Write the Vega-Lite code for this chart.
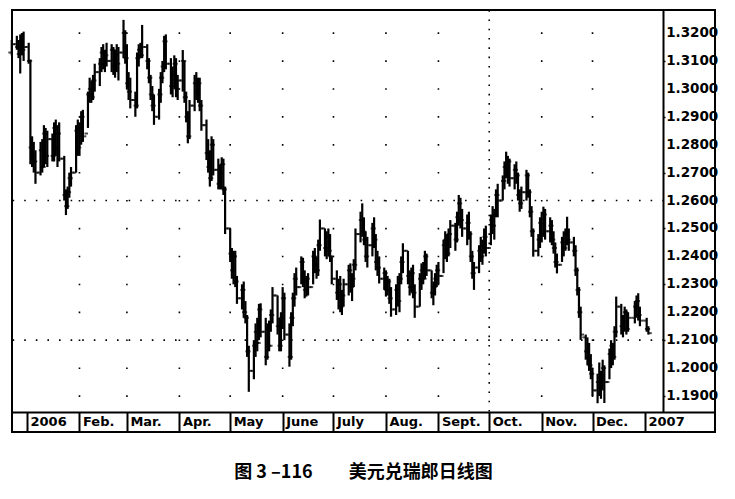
{
  "$schema": "https://vega.github.io/schema/vega-lite/v6.json",
  "width": 703,
  "height": 422,
  "autosize": {"type": "none"},
  "padding": {"left": 12, "top": 10, "right": 20, "bottom": 67},
  "background": "white",
  "config": {
    "view": {"stroke": "#000", "strokeWidth": 2},
    "axis": {"grid": false, "title": null, "labelOverlap": false}
  },
  "title": {
    "text": "图 3 –116\u3000\u3000美元兑瑞郎日线图",
    "orient": "bottom",
    "anchor": "middle",
    "font": "Noto Sans CJK SC",
    "fontSize": 18,
    "fontWeight": "bold",
    "color": "#000",
    "offset": 31
  },
  "datasets": {
    "ohlc": [
      {"d":"2005-12-23","o":1.3130,"h":1.3175,"l":1.3120,"c":1.3160},
      {"d":"2005-12-26","o":1.3160,"h":1.3190,"l":1.3140,"c":1.3150},
      {"d":"2005-12-27","o":1.3150,"h":1.3175,"l":1.3110,"c":1.3125},
      {"d":"2005-12-28","o":1.3125,"h":1.3195,"l":1.3055,"c":1.3170},
      {"d":"2005-12-29","o":1.3170,"h":1.3200,"l":1.3120,"c":1.3140},
      {"d":"2005-12-30","o":1.3140,"h":1.3205,"l":1.3100,"c":1.3150},
      {"d":"2006-01-02","o":1.3150,"h":1.3165,"l":1.3090,"c":1.3100},
      {"d":"2006-01-03","o":1.3100,"h":1.3105,"l":1.2730,"c":1.2790},
      {"d":"2006-01-04","o":1.2790,"h":1.2830,"l":1.2720,"c":1.2760},
      {"d":"2006-01-05","o":1.2760,"h":1.2810,"l":1.2700,"c":1.2740},
      {"d":"2006-01-06","o":1.2740,"h":1.2780,"l":1.2660,"c":1.2700},
      {"d":"2006-01-09","o":1.2700,"h":1.2810,"l":1.2690,"c":1.2780},
      {"d":"2006-01-10","o":1.2780,"h":1.2820,"l":1.2700,"c":1.2720},
      {"d":"2006-01-11","o":1.2720,"h":1.2870,"l":1.2720,"c":1.2840},
      {"d":"2006-01-12","o":1.2840,"h":1.2860,"l":1.2730,"c":1.2760},
      {"d":"2006-01-13","o":1.2760,"h":1.2850,"l":1.2720,"c":1.2820},
      {"d":"2006-01-16","o":1.2820,"h":1.2840,"l":1.2740,"c":1.2760},
      {"d":"2006-01-17","o":1.2760,"h":1.2880,"l":1.2740,"c":1.2860},
      {"d":"2006-01-18","o":1.2860,"h":1.2890,"l":1.2760,"c":1.2790},
      {"d":"2006-01-19","o":1.2790,"h":1.2870,"l":1.2720,"c":1.2840},
      {"d":"2006-01-20","o":1.2840,"h":1.2880,"l":1.2740,"c":1.2750},
      {"d":"2006-01-23","o":1.2750,"h":1.2760,"l":1.2600,"c":1.2620},
      {"d":"2006-01-24","o":1.2620,"h":1.2640,"l":1.2548,"c":1.2580},
      {"d":"2006-01-25","o":1.2580,"h":1.2650,"l":1.2570,"c":1.2630},
      {"d":"2006-01-26","o":1.2630,"h":1.2700,"l":1.2610,"c":1.2680},
      {"d":"2006-01-27","o":1.2680,"h":1.2720,"l":1.2650,"c":1.2700},
      {"d":"2006-01-30","o":1.2700,"h":1.2870,"l":1.2700,"c":1.2850},
      {"d":"2006-01-31","o":1.2850,"h":1.2890,"l":1.2760,"c":1.2790},
      {"d":"2006-02-01","o":1.2790,"h":1.2880,"l":1.2760,"c":1.2860},
      {"d":"2006-02-02","o":1.2860,"h":1.2920,"l":1.2800,"c":1.2900},
      {"d":"2006-02-03","o":1.2900,"h":1.2925,"l":1.2810,"c":1.2830},
      {"d":"2006-02-06","o":1.2840,"h":1.2990,"l":1.2860,"c":1.2980},
      {"d":"2006-02-07","o":1.2980,"h":1.3040,"l":1.2950,"c":1.3000},
      {"d":"2006-02-08","o":1.3000,"h":1.3030,"l":1.2950,"c":1.2970},
      {"d":"2006-02-09","o":1.2970,"h":1.3050,"l":1.2960,"c":1.3030},
      {"d":"2006-02-10","o":1.3030,"h":1.3090,"l":1.2990,"c":1.3060},
      {"d":"2006-02-13","o":1.3060,"h":1.3110,"l":1.3010,"c":1.3090},
      {"d":"2006-02-14","o":1.3090,"h":1.3150,"l":1.3060,"c":1.3130},
      {"d":"2006-02-15","o":1.3130,"h":1.3160,"l":1.3070,"c":1.3090},
      {"d":"2006-02-16","o":1.3090,"h":1.3140,"l":1.3060,"c":1.3120},
      {"d":"2006-02-17","o":1.3120,"h":1.3165,"l":1.3080,"c":1.3100},
      {"d":"2006-02-20","o":1.3100,"h":1.3160,"l":1.3060,"c":1.3140},
      {"d":"2006-02-21","o":1.3140,"h":1.3150,"l":1.3050,"c":1.3080},
      {"d":"2006-02-22","o":1.3080,"h":1.3140,"l":1.3040,"c":1.3120},
      {"d":"2006-02-23","o":1.3120,"h":1.3160,"l":1.3060,"c":1.3090},
      {"d":"2006-02-24","o":1.3090,"h":1.3150,"l":1.3030,"c":1.3130},
      {"d":"2006-02-27","o":1.3130,"h":1.3247,"l":1.3110,"c":1.3200},
      {"d":"2006-02-28","o":1.3200,"h":1.3210,"l":1.3090,"c":1.3110},
      {"d":"2006-03-01","o":1.3110,"h":1.3160,"l":1.3000,"c":1.3020},
      {"d":"2006-03-02","o":1.3020,"h":1.3060,"l":1.2960,"c":1.2990},
      {"d":"2006-03-03","o":1.2990,"h":1.3040,"l":1.2930,"c":1.2960},
      {"d":"2006-03-06","o":1.2960,"h":1.2990,"l":1.2900,"c":1.2940},
      {"d":"2006-03-07","o":1.2940,"h":1.3130,"l":1.2930,"c":1.3110},
      {"d":"2006-03-08","o":1.3110,"h":1.3160,"l":1.3080,"c":1.3140},
      {"d":"2006-03-09","o":1.3140,"h":1.3165,"l":1.3110,"c":1.3120},
      {"d":"2006-03-10","o":1.3120,"h":1.3229,"l":1.3110,"c":1.3150},
      {"d":"2006-03-13","o":1.3150,"h":1.3160,"l":1.3070,"c":1.3100},
      {"d":"2006-03-14","o":1.3100,"h":1.3110,"l":1.3020,"c":1.3040},
      {"d":"2006-03-15","o":1.3040,"h":1.3050,"l":1.2960,"c":1.2980},
      {"d":"2006-03-16","o":1.2980,"h":1.3010,"l":1.2920,"c":1.2940},
      {"d":"2006-03-17","o":1.2940,"h":1.2980,"l":1.2871,"c":1.2900},
      {"d":"2006-03-20","o":1.2900,"h":1.3000,"l":1.2890,"c":1.2980},
      {"d":"2006-03-21","o":1.2980,"h":1.3060,"l":1.2950,"c":1.3040},
      {"d":"2006-03-22","o":1.3040,"h":1.3100,"l":1.3020,"c":1.3080},
      {"d":"2006-03-23","o":1.3080,"h":1.3190,"l":1.3060,"c":1.3170},
      {"d":"2006-03-24","o":1.3170,"h":1.3195,"l":1.3070,"c":1.3090},
      {"d":"2006-03-27","o":1.3090,"h":1.3110,"l":1.2980,"c":1.3010},
      {"d":"2006-03-28","o":1.3010,"h":1.3080,"l":1.2970,"c":1.3050},
      {"d":"2006-03-29","o":1.3050,"h":1.3120,"l":1.3000,"c":1.3090},
      {"d":"2006-03-30","o":1.3090,"h":1.3110,"l":1.2970,"c":1.3000},
      {"d":"2006-03-31","o":1.3000,"h":1.3050,"l":1.2960,"c":1.3030},
      {"d":"2006-04-03","o":1.3030,"h":1.3139,"l":1.2990,"c":1.3100},
      {"d":"2006-04-04","o":1.3100,"h":1.3100,"l":1.2950,"c":1.2970},
      {"d":"2006-04-05","o":1.2970,"h":1.2990,"l":1.2880,"c":1.2900},
      {"d":"2006-04-06","o":1.2900,"h":1.2920,"l":1.2805,"c":1.2830},
      {"d":"2006-04-07","o":1.2830,"h":1.2960,"l":1.2820,"c":1.2940},
      {"d":"2006-04-10","o":1.2940,"h":1.3050,"l":1.2920,"c":1.3020},
      {"d":"2006-04-11","o":1.3020,"h":1.3060,"l":1.2960,"c":1.2990},
      {"d":"2006-04-12","o":1.2990,"h":1.3040,"l":1.2950,"c":1.3020},
      {"d":"2006-04-13","o":1.3020,"h":1.3040,"l":1.2920,"c":1.2940},
      {"d":"2006-04-14","o":1.2940,"h":1.2960,"l":1.2850,"c":1.2870},
      {"d":"2006-04-17","o":1.2870,"h":1.2890,"l":1.2745,"c":1.2770},
      {"d":"2006-04-18","o":1.2770,"h":1.2820,"l":1.2700,"c":1.2720},
      {"d":"2006-04-19","o":1.2720,"h":1.2780,"l":1.2650,"c":1.2680},
      {"d":"2006-04-20","o":1.2680,"h":1.2830,"l":1.2670,"c":1.2800},
      {"d":"2006-04-21","o":1.2800,"h":1.2820,"l":1.2690,"c":1.2710},
      {"d":"2006-04-24","o":1.2710,"h":1.2750,"l":1.2640,"c":1.2660},
      {"d":"2006-04-25","o":1.2660,"h":1.2730,"l":1.2640,"c":1.2700},
      {"d":"2006-04-26","o":1.2700,"h":1.2755,"l":1.2640,"c":1.2730},
      {"d":"2006-04-27","o":1.2730,"h":1.2750,"l":1.2620,"c":1.2640},
      {"d":"2006-04-28","o":1.2640,"h":1.2650,"l":1.2480,"c":1.2500},
      {"d":"2006-05-01","o":1.2500,"h":1.2500,"l":1.2380,"c":1.2410},
      {"d":"2006-05-02","o":1.2410,"h":1.2430,"l":1.2320,"c":1.2350},
      {"d":"2006-05-03","o":1.2350,"h":1.2420,"l":1.2300,"c":1.2400},
      {"d":"2006-05-04","o":1.2400,"h":1.2420,"l":1.2290,"c":1.2310},
      {"d":"2006-05-05","o":1.2310,"h":1.2330,"l":1.2230,"c":1.2250},
      {"d":"2006-05-08","o":1.2250,"h":1.2300,"l":1.2210,"c":1.2280},
      {"d":"2006-05-09","o":1.2280,"h":1.2310,"l":1.2180,"c":1.2200},
      {"d":"2006-05-10","o":1.2200,"h":1.2240,"l":1.2160,"c":1.2180},
      {"d":"2006-05-11","o":1.2180,"h":1.2190,"l":1.2040,"c":1.2060},
      {"d":"2006-05-12","o":1.2060,"h":1.2080,"l":1.1915,"c":1.1990},
      {"d":"2006-05-15","o":1.1990,"h":1.2100,"l":1.1960,"c":1.2080},
      {"d":"2006-05-16","o":1.2080,"h":1.2160,"l":1.2040,"c":1.2130},
      {"d":"2006-05-17","o":1.2130,"h":1.2180,"l":1.2060,"c":1.2090},
      {"d":"2006-05-18","o":1.2090,"h":1.2230,"l":1.2100,"c":1.2210},
      {"d":"2006-05-19","o":1.2210,"h":1.2232,"l":1.2110,"c":1.2130},
      {"d":"2006-05-22","o":1.2130,"h":1.2180,"l":1.2010,"c":1.2040},
      {"d":"2006-05-23","o":1.2040,"h":1.2160,"l":1.2030,"c":1.2140},
      {"d":"2006-05-24","o":1.2140,"h":1.2170,"l":1.2060,"c":1.2080},
      {"d":"2006-05-25","o":1.2080,"h":1.2210,"l":1.2130,"c":1.2190},
      {"d":"2006-05-26","o":1.2190,"h":1.2290,"l":1.2160,"c":1.2260},
      {"d":"2006-05-29","o":1.2260,"h":1.2260,"l":1.2120,"c":1.2150},
      {"d":"2006-05-30","o":1.2150,"h":1.2180,"l":1.2060,"c":1.2080},
      {"d":"2006-05-31","o":1.2080,"h":1.2200,"l":1.2060,"c":1.2180},
      {"d":"2006-06-01","o":1.2180,"h":1.2290,"l":1.2140,"c":1.2250},
      {"d":"2006-06-02","o":1.2250,"h":1.2270,"l":1.2100,"c":1.2120},
      {"d":"2006-06-05","o":1.2120,"h":1.2160,"l":1.2005,"c":1.2040},
      {"d":"2006-06-06","o":1.2040,"h":1.2200,"l":1.2030,"c":1.2180},
      {"d":"2006-06-07","o":1.2180,"h":1.2270,"l":1.2150,"c":1.2250},
      {"d":"2006-06-08","o":1.2250,"h":1.2340,"l":1.2220,"c":1.2320},
      {"d":"2006-06-09","o":1.2320,"h":1.2360,"l":1.2260,"c":1.2290},
      {"d":"2006-06-12","o":1.2290,"h":1.2400,"l":1.2300,"c":1.2380},
      {"d":"2006-06-13","o":1.2380,"h":1.2395,"l":1.2290,"c":1.2310},
      {"d":"2006-06-14","o":1.2310,"h":1.2350,"l":1.2250,"c":1.2280},
      {"d":"2006-06-15","o":1.2280,"h":1.2330,"l":1.2256,"c":1.2320},
      {"d":"2006-06-16","o":1.2320,"h":1.2340,"l":1.2260,"c":1.2290},
      {"d":"2006-06-19","o":1.2290,"h":1.2420,"l":1.2300,"c":1.2400},
      {"d":"2006-06-20","o":1.2400,"h":1.2430,"l":1.2340,"c":1.2370},
      {"d":"2006-06-21","o":1.2370,"h":1.2400,"l":1.2320,"c":1.2350},
      {"d":"2006-06-22","o":1.2350,"h":1.2460,"l":1.2330,"c":1.2440},
      {"d":"2006-06-23","o":1.2440,"h":1.2532,"l":1.2420,"c":1.2500},
      {"d":"2006-06-26","o":1.2500,"h":1.2500,"l":1.2400,"c":1.2430},
      {"d":"2006-06-27","o":1.2430,"h":1.2490,"l":1.2390,"c":1.2470},
      {"d":"2006-06-28","o":1.2470,"h":1.2500,"l":1.2400,"c":1.2420},
      {"d":"2006-06-29","o":1.2420,"h":1.2480,"l":1.2380,"c":1.2400},
      {"d":"2006-06-30","o":1.2400,"h":1.2400,"l":1.2300,"c":1.2320},
      {"d":"2006-07-03","o":1.2320,"h":1.2350,"l":1.2244,"c":1.2270},
      {"d":"2006-07-04","o":1.2270,"h":1.2320,"l":1.2210,"c":1.2300},
      {"d":"2006-07-05","o":1.2300,"h":1.2330,"l":1.2200,"c":1.2220},
      {"d":"2006-07-06","o":1.2220,"h":1.2280,"l":1.2190,"c":1.2260},
      {"d":"2006-07-07","o":1.2260,"h":1.2320,"l":1.2220,"c":1.2300},
      {"d":"2006-07-10","o":1.2300,"h":1.2370,"l":1.2260,"c":1.2350},
      {"d":"2006-07-11","o":1.2350,"h":1.2375,"l":1.2270,"c":1.2290},
      {"d":"2006-07-12","o":1.2290,"h":1.2340,"l":1.2240,"c":1.2320},
      {"d":"2006-07-13","o":1.2320,"h":1.2390,"l":1.2290,"c":1.2370},
      {"d":"2006-07-14","o":1.2370,"h":1.2500,"l":1.2350,"c":1.2480},
      {"d":"2006-07-17","o":1.2480,"h":1.2560,"l":1.2450,"c":1.2530},
      {"d":"2006-07-18","o":1.2530,"h":1.2590,"l":1.2470,"c":1.2490},
      {"d":"2006-07-19","o":1.2490,"h":1.2540,"l":1.2440,"c":1.2460},
      {"d":"2006-07-20","o":1.2460,"h":1.2490,"l":1.2380,"c":1.2400},
      {"d":"2006-07-21","o":1.2400,"h":1.2470,"l":1.2360,"c":1.2440},
      {"d":"2006-07-24","o":1.2440,"h":1.2520,"l":1.2400,"c":1.2500},
      {"d":"2006-07-25","o":1.2500,"h":1.2540,"l":1.2430,"c":1.2460},
      {"d":"2006-07-26","o":1.2460,"h":1.2480,"l":1.2350,"c":1.2380},
      {"d":"2006-07-27","o":1.2380,"h":1.2420,"l":1.2330,"c":1.2360},
      {"d":"2006-07-28","o":1.2360,"h":1.2400,"l":1.2303,"c":1.2320},
      {"d":"2006-07-31","o":1.2320,"h":1.2360,"l":1.2280,"c":1.2340},
      {"d":"2006-08-01","o":1.2340,"h":1.2350,"l":1.2256,"c":1.2280},
      {"d":"2006-08-02","o":1.2280,"h":1.2330,"l":1.2260,"c":1.2310},
      {"d":"2006-08-03","o":1.2310,"h":1.2320,"l":1.2230,"c":1.2250},
      {"d":"2006-08-04","o":1.2250,"h":1.2290,"l":1.2184,"c":1.2210},
      {"d":"2006-08-07","o":1.2210,"h":1.2300,"l":1.2190,"c":1.2280},
      {"d":"2006-08-08","o":1.2280,"h":1.2330,"l":1.2220,"c":1.2240},
      {"d":"2006-08-09","o":1.2240,"h":1.2340,"l":1.2200,"c":1.2320},
      {"d":"2006-08-10","o":1.2320,"h":1.2400,"l":1.2300,"c":1.2380},
      {"d":"2006-08-11","o":1.2380,"h":1.2447,"l":1.2340,"c":1.2420},
      {"d":"2006-08-14","o":1.2420,"h":1.2420,"l":1.2300,"c":1.2330},
      {"d":"2006-08-15","o":1.2330,"h":1.2350,"l":1.2260,"c":1.2290},
      {"d":"2006-08-16","o":1.2290,"h":1.2360,"l":1.2270,"c":1.2340},
      {"d":"2006-08-17","o":1.2340,"h":1.2370,"l":1.2250,"c":1.2270},
      {"d":"2006-08-18","o":1.2270,"h":1.2300,"l":1.2180,"c":1.2220},
      {"d":"2006-08-21","o":1.2220,"h":1.2340,"l":1.2220,"c":1.2320},
      {"d":"2006-08-22","o":1.2320,"h":1.2375,"l":1.2280,"c":1.2350},
      {"d":"2006-08-23","o":1.2350,"h":1.2380,"l":1.2300,"c":1.2320},
      {"d":"2006-08-24","o":1.2320,"h":1.2420,"l":1.2320,"c":1.2400},
      {"d":"2006-08-25","o":1.2400,"h":1.2410,"l":1.2330,"c":1.2350},
      {"d":"2006-08-28","o":1.2350,"h":1.2350,"l":1.2250,"c":1.2270},
      {"d":"2006-08-29","o":1.2270,"h":1.2310,"l":1.2225,"c":1.2290},
      {"d":"2006-08-30","o":1.2290,"h":1.2340,"l":1.2260,"c":1.2320},
      {"d":"2006-08-31","o":1.2320,"h":1.2370,"l":1.2290,"c":1.2350},
      {"d":"2006-09-01","o":1.2350,"h":1.2380,"l":1.2300,"c":1.2330},
      {"d":"2006-09-04","o":1.2330,"h":1.2460,"l":1.2340,"c":1.2440},
      {"d":"2006-09-05","o":1.2440,"h":1.2490,"l":1.2390,"c":1.2460},
      {"d":"2006-09-06","o":1.2460,"h":1.2480,"l":1.2380,"c":1.2410},
      {"d":"2006-09-07","o":1.2410,"h":1.2500,"l":1.2400,"c":1.2480},
      {"d":"2006-09-08","o":1.2480,"h":1.2530,"l":1.2430,"c":1.2510},
      {"d":"2006-09-11","o":1.2510,"h":1.2520,"l":1.2420,"c":1.2460},
      {"d":"2006-09-12","o":1.2460,"h":1.2560,"l":1.2450,"c":1.2540},
      {"d":"2006-09-13","o":1.2540,"h":1.2620,"l":1.2510,"c":1.2590},
      {"d":"2006-09-14","o":1.2590,"h":1.2610,"l":1.2500,"c":1.2530},
      {"d":"2006-09-15","o":1.2530,"h":1.2570,"l":1.2470,"c":1.2500},
      {"d":"2006-09-18","o":1.2500,"h":1.2550,"l":1.2440,"c":1.2520},
      {"d":"2006-09-19","o":1.2520,"h":1.2560,"l":1.2460,"c":1.2480},
      {"d":"2006-09-20","o":1.2480,"h":1.2490,"l":1.2380,"c":1.2400},
      {"d":"2006-09-21","o":1.2400,"h":1.2420,"l":1.2320,"c":1.2340},
      {"d":"2006-09-22","o":1.2340,"h":1.2380,"l":1.2280,"c":1.2360},
      {"d":"2006-09-25","o":1.2360,"h":1.2440,"l":1.2340,"c":1.2420},
      {"d":"2006-09-26","o":1.2420,"h":1.2470,"l":1.2380,"c":1.2400},
      {"d":"2006-09-27","o":1.2400,"h":1.2460,"l":1.2370,"c":1.2440},
      {"d":"2006-09-28","o":1.2440,"h":1.2500,"l":1.2410,"c":1.2470},
      {"d":"2006-09-29","o":1.2470,"h":1.2510,"l":1.2400,"c":1.2430},
      {"d":"2006-10-02","o":1.2430,"h":1.2550,"l":1.2440,"c":1.2530},
      {"d":"2006-10-03","o":1.2530,"h":1.2580,"l":1.2480,"c":1.2510},
      {"d":"2006-10-04","o":1.2510,"h":1.2570,"l":1.2460,"c":1.2550},
      {"d":"2006-10-05","o":1.2550,"h":1.2640,"l":1.2540,"c":1.2620},
      {"d":"2006-10-06","o":1.2620,"h":1.2660,"l":1.2540,"c":1.2600},
      {"d":"2006-10-09","o":1.2600,"h":1.2690,"l":1.2600,"c":1.2670},
      {"d":"2006-10-10","o":1.2670,"h":1.2740,"l":1.2640,"c":1.2720},
      {"d":"2006-10-11","o":1.2720,"h":1.2775,"l":1.2680,"c":1.2700},
      {"d":"2006-10-12","o":1.2700,"h":1.2760,"l":1.2660,"c":1.2740},
      {"d":"2006-10-13","o":1.2740,"h":1.2750,"l":1.2650,"c":1.2680},
      {"d":"2006-10-16","o":1.2680,"h":1.2730,"l":1.2640,"c":1.2710},
      {"d":"2006-10-17","o":1.2710,"h":1.2740,"l":1.2660,"c":1.2690},
      {"d":"2006-10-18","o":1.2690,"h":1.2700,"l":1.2600,"c":1.2620},
      {"d":"2006-10-19","o":1.2620,"h":1.2640,"l":1.2560,"c":1.2590},
      {"d":"2006-10-20","o":1.2590,"h":1.2650,"l":1.2570,"c":1.2630},
      {"d":"2006-10-23","o":1.2630,"h":1.2710,"l":1.2600,"c":1.2690},
      {"d":"2006-10-24","o":1.2690,"h":1.2700,"l":1.2610,"c":1.2630},
      {"d":"2006-10-25","o":1.2630,"h":1.2640,"l":1.2540,"c":1.2560},
      {"d":"2006-10-26","o":1.2560,"h":1.2580,"l":1.2470,"c":1.2490},
      {"d":"2006-10-27","o":1.2490,"h":1.2500,"l":1.2399,"c":1.2420},
      {"d":"2006-10-30","o":1.2420,"h":1.2480,"l":1.2400,"c":1.2460},
      {"d":"2006-10-31","o":1.2460,"h":1.2540,"l":1.2430,"c":1.2520},
      {"d":"2006-11-01","o":1.2520,"h":1.2560,"l":1.2450,"c":1.2480},
      {"d":"2006-11-02","o":1.2480,"h":1.2578,"l":1.2470,"c":1.2550},
      {"d":"2006-11-03","o":1.2550,"h":1.2570,"l":1.2460,"c":1.2490},
      {"d":"2006-11-06","o":1.2490,"h":1.2540,"l":1.2450,"c":1.2510},
      {"d":"2006-11-07","o":1.2510,"h":1.2530,"l":1.2440,"c":1.2460},
      {"d":"2006-11-08","o":1.2460,"h":1.2490,"l":1.2410,"c":1.2430},
      {"d":"2006-11-09","o":1.2430,"h":1.2450,"l":1.2360,"c":1.2380},
      {"d":"2006-11-10","o":1.2380,"h":1.2410,"l":1.2339,"c":1.2370},
      {"d":"2006-11-13","o":1.2370,"h":1.2470,"l":1.2380,"c":1.2450},
      {"d":"2006-11-14","o":1.2450,"h":1.2490,"l":1.2400,"c":1.2430},
      {"d":"2006-11-15","o":1.2430,"h":1.2500,"l":1.2420,"c":1.2480},
      {"d":"2006-11-16","o":1.2480,"h":1.2542,"l":1.2440,"c":1.2460},
      {"d":"2006-11-17","o":1.2460,"h":1.2500,"l":1.2420,"c":1.2450},
      {"d":"2006-11-20","o":1.2450,"h":1.2470,"l":1.2400,"c":1.2420},
      {"d":"2006-11-21","o":1.2420,"h":1.2440,"l":1.2330,"c":1.2350},
      {"d":"2006-11-22","o":1.2350,"h":1.2360,"l":1.2260,"c":1.2280},
      {"d":"2006-11-23","o":1.2280,"h":1.2290,"l":1.2180,"c":1.2200},
      {"d":"2006-11-24","o":1.2200,"h":1.2220,"l":1.2101,"c":1.2120},
      {"d":"2006-11-27","o":1.2110,"h":1.2120,"l":1.2030,"c":1.2060},
      {"d":"2006-11-28","o":1.2060,"h":1.2110,"l":1.2010,"c":1.2040},
      {"d":"2006-11-29","o":1.2040,"h":1.2090,"l":1.1990,"c":1.2010},
      {"d":"2006-11-30","o":1.2010,"h":1.2050,"l":1.1960,"c":1.1980},
      {"d":"2006-12-01","o":1.1980,"h":1.2000,"l":1.1900,"c":1.1920},
      {"d":"2006-12-04","o":1.1920,"h":1.1980,"l":1.1874,"c":1.1950},
      {"d":"2006-12-05","o":1.1950,"h":1.2020,"l":1.1900,"c":1.1930},
      {"d":"2006-12-06","o":1.1930,"h":1.1990,"l":1.1890,"c":1.1960},
      {"d":"2006-12-07","o":1.1960,"h":1.2030,"l":1.1920,"c":1.2000},
      {"d":"2006-12-08","o":1.2000,"h":1.2010,"l":1.1875,"c":1.1950},
      {"d":"2006-12-11","o":1.1950,"h":1.2070,"l":1.1960,"c":1.2050},
      {"d":"2006-12-12","o":1.2050,"h":1.2100,"l":1.2000,"c":1.2080},
      {"d":"2006-12-13","o":1.2080,"h":1.2090,"l":1.2010,"c":1.2040},
      {"d":"2006-12-14","o":1.2040,"h":1.2150,"l":1.2030,"c":1.2130},
      {"d":"2006-12-15","o":1.2130,"h":1.2256,"l":1.2110,"c":1.2220},
      {"d":"2006-12-18","o":1.2220,"h":1.2230,"l":1.2120,"c":1.2150},
      {"d":"2006-12-19","o":1.2150,"h":1.2190,"l":1.2110,"c":1.2170},
      {"d":"2006-12-20","o":1.2170,"h":1.2220,"l":1.2130,"c":1.2200},
      {"d":"2006-12-21","o":1.2200,"h":1.2210,"l":1.2120,"c":1.2140},
      {"d":"2006-12-22","o":1.2140,"h":1.2200,"l":1.2130,"c":1.2180},
      {"d":"2006-12-26","o":1.2180,"h":1.2240,"l":1.2160,"c":1.2220},
      {"d":"2006-12-27","o":1.2220,"h":1.2260,"l":1.2180,"c":1.2240},
      {"d":"2006-12-28","o":1.2240,"h":1.2268,"l":1.2170,"c":1.2190},
      {"d":"2006-12-29","o":1.2190,"h":1.2220,"l":1.2150,"c":1.2170},
      {"d":"2007-01-02","o":1.2170,"h":1.2180,"l":1.2130,"c":1.2140},
      {"d":"2007-01-03","o":1.2140,"h":1.2150,"l":1.2120,"c":1.2125}
    ],
    "grid": [
      {"m":"2006-02-01"},{"m":"2006-03-01"},{"m":"2006-04-01"},{"m":"2006-05-01"},
      {"m":"2006-06-01"},{"m":"2006-07-01"},{"m":"2006-08-01"},{"m":"2006-09-01"},
      {"m":"2006-11-01"},{"m":"2006-12-01"}
    ],
    "dense": [{"m":"2006-10-01"}],
    "levels": [{"p":1.21},{"p":1.26}],
    "prices": [
      {"p":1.19},{"p":1.20},{"p":1.21},{"p":1.22},{"p":1.23},{"p":1.24},{"p":1.25},
      {"p":1.26},{"p":1.27},{"p":1.28},{"p":1.29},{"p":1.30},{"p":1.31},{"p":1.32}
    ]
  },
  "layer": [
    {
      "data": {"name": "grid"},
      "mark": {"type": "rule", "color": "#000", "strokeWidth": 1.6, "strokeDash": [1.6, 26.32], "strokeDashOffset": 5.67},
      "encoding": {
        "x": {"field": "m", "type": "temporal",
              "scale": {"type": "utc", "domain": [{"year":2005,"month":12,"date":23,"hours":3,"minutes":20,"utc":true},{"year":2007,"month":2,"date":11,"hours":8,"minutes":24,"utc":true}]},
              "axis": {
                "orient": "bottom", "offset": -20,
                "values": [
                  {"year":2006,"month":1,"date":1,"utc":true},{"year":2006,"month":2,"date":1,"utc":true},
                  {"year":2006,"month":3,"date":1,"utc":true},{"year":2006,"month":4,"date":1,"utc":true},
                  {"year":2006,"month":5,"date":1,"utc":true},{"year":2006,"month":6,"date":1,"utc":true},
                  {"year":2006,"month":7,"date":1,"utc":true},{"year":2006,"month":8,"date":1,"utc":true},
                  {"year":2006,"month":9,"date":1,"utc":true},{"year":2006,"month":10,"date":1,"utc":true},
                  {"year":2006,"month":11,"date":1,"utc":true},{"year":2006,"month":12,"date":1,"utc":true},
                  {"year":2007,"month":1,"date":1,"utc":true}
                ],
                "labelExpr": "utcmonth(datum.value) == 0 ? '' + utcyear(datum.value) : ['', 'Feb.', 'Mar.', 'Apr.', 'May', 'June', 'July', 'Aug.', 'Sept.', 'Oct.', 'Nov.', 'Dec.'][utcmonth(datum.value)]",
                "domainColor": "#000", "domainWidth": 2,
                "tickColor": "#000", "tickWidth": 2, "tickSize": 20,
                "labelAlign": "left", "labelBaseline": "top", "labelPadding": -17, "labelOffset": 3,
                "labelFont": "DejaVu Sans", "labelFontWeight": "bold", "labelFontSize": 13,
                "labelColor": "#000", "labelFlush": false, "labelOverlap": false, "title": null
              }},
        "y": {"datum": 1.3282, "type": "quantitative",
              "scale": {"domain": [1.18427, 1.32824], "range": [402, 0], "nice": false, "zero": false},
              "axis": {
                "orient": "right", "offset": -52,
                "values": [1.19, 1.195, 1.2, 1.205, 1.21, 1.215, 1.22, 1.225, 1.23, 1.235, 1.24, 1.245, 1.25, 1.255, 1.26, 1.265, 1.27, 1.275, 1.28, 1.285, 1.29, 1.295, 1.3, 1.305, 1.31, 1.315, 1.32],
                "labels": false,
                "domainColor": "#000", "domainWidth": 2,
                "tickColor": "#000", "tickWidth": 1.5, "tickSize": 2,
                "title": null
              }},
        "y2": {"datum": 1.1843}
      }
    },
    {
      "data": {"name": "dense"},
      "mark": {"type": "rule", "color": "#000", "strokeWidth": 1.6, "strokeDash": [1.6, 7.7]},
      "encoding": {
        "x": {"field": "m", "type": "temporal"},
        "y": {"datum": 1.3282, "type": "quantitative"},
        "y2": {"datum": 1.1843}
      }
    },
    {
      "data": {"name": "levels"},
      "mark": {"type": "rule", "color": "#000", "strokeWidth": 1.6, "strokeDash": [1.6, 10]},
      "encoding": {
        "y": {"field": "p", "type": "quantitative"},
        "x": {"datum": {"year":2005,"month":12,"date":23,"hours":12,"utc":true}, "type": "temporal"},
        "x2": {"datum": {"year":2007,"month":1,"date":11,"hours":14,"utc":true}}
      }
    },
    {
      "data": {"name": "prices"},
      "mark": {"type": "text", "align": "left", "baseline": "middle", "font": "DejaVu Sans", "fontWeight": "bold", "fontSize": 13.5, "color": "#000"},
      "encoding": {
        "y": {"field": "p", "type": "quantitative"},
        "x": {"datum": {"year":2007,"month":1,"date":13,"hours":12,"utc":true}, "type": "temporal"},
        "text": {"field": "p", "type": "quantitative", "format": ".4f"}
      }
    },
    {
      "data": {"name": "ohlc"},
      "mark": {"type": "rule", "color": "#000", "strokeWidth": 2.2},
      "encoding": {
        "x": {"field": "d", "type": "temporal"},
        "y": {"field": "l", "type": "quantitative"},
        "y2": {"field": "h"}
      }
    },
    {
      "data": {"name": "ohlc"},
      "mark": {"type": "tick", "orient": "horizontal", "color": "#000", "size": 3.5, "thickness": 2, "xOffset": -1.7},
      "encoding": {
        "x": {"field": "d", "type": "temporal"},
        "y": {"field": "o", "type": "quantitative"}
      }
    },
    {
      "data": {"name": "ohlc"},
      "mark": {"type": "tick", "orient": "horizontal", "color": "#000", "size": 3.5, "thickness": 2, "xOffset": 1.7},
      "encoding": {
        "x": {"field": "d", "type": "temporal"},
        "y": {"field": "c", "type": "quantitative"}
      }
    }
  ]
}
